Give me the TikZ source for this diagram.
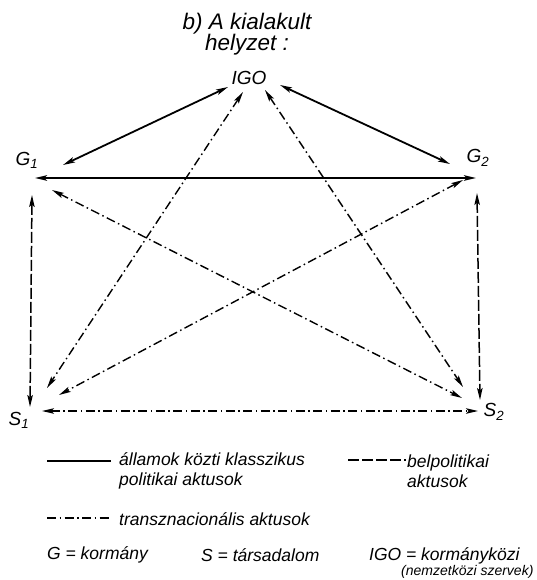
\documentclass[tikz,border=0pt]{standalone}
\usepackage{fontspec}
\setmainfont{Liberation Sans}
\usepackage{tikz}
\usetikzlibrary{arrows.meta, positioning}

\begin{document}
\begin{tikzpicture}[
        x=1pt, y=-1pt,
        >={Stealth[length=12pt,width=5.5pt,inset=2.5pt]},
        lbl/.style={font=\fontsize{19}{20}\selectfont\itshape, inner sep=0pt},
        leg/.style={font=\fontsize{17.5}{20}\selectfont\itshape, inner sep=0pt, align=left, anchor=west},
        klassline/.style={line width=1.8pt},
        belline/.style={line width=1.5pt, dash pattern=on 11pt off 3pt},
        transline/.style={line width=1.4pt, dash pattern=on 9pt off 3.5pt on 1.5pt off 3.5pt},
        klass/.style={klassline, <->},
        bel/.style={belline, <->},
        trans/.style={transline, <->}
    ]
    \useasboundingbox (0,0) rectangle (536,580);

    \node[font=\fontsize{22.5}{21}\selectfont\itshape, align=center] (title) at (247,34) {b) A kialakult\\helyzet :};

    \node[lbl] (igo) at (249,78) {IGO};
    \node[lbl] (g1) at (27,160) {G\textsubscript{1}};
    \node[lbl] (g2) at (478,158) {G\textsubscript{2}};
    \node[lbl] (s1) at (19,420) {S\textsubscript{1}};
    \node[lbl] (s2) at (494,412) {S\textsubscript{2}};

    % classical inter-state acts
    \draw[klass] ([shift={(-21,9)}]igo.center) -- ([shift={(36,5)}]g1.center);
    \draw[klass] ([shift={(31,7)}]igo.center) -- ([shift={(-28,6)}]g2.center);
    \draw[klass] ([shift={(8,18)}]g1.center) -- ([shift={(-2,20)}]g2.center);

    % domestic acts
    \draw[bel] ([shift={(5,35)}]g1.center) -- ([shift={(11,-13)}]s1.center);
    \draw[bel] ([shift={(-1,35)}]g2.center) -- ([shift={(-14,-12)}]s2.center);

    % transnational acts
    \draw[trans] ([shift={(23,-9)}]s1.center) -- ([shift={(-16,-1)}]s2.center);
    \draw[trans] ([shift={(-6,14)}]igo.center) -- ([shift={(28,-32)}]s1.center);
    \draw[trans] ([shift={(16,12)}]igo.center) -- ([shift={(-31,-25)}]s2.center);
    \draw[trans] ([shift={(25,30)}]g1.center) -- ([shift={(-32,-14)}]s2.center);
    \draw[trans] ([shift={(-15,22)}]g2.center) -- ([shift={(40,-25)}]s1.center);

    % legend
    \node[leg] (lkl) at (119,471) {államok közti klasszikus\\politikai aktusok};
    \node[leg] (lbel) at (407,471) {belpolitikai\\aktusok};
    \node[leg] (ltrans) at (119,519) {transznacionális aktusok};
    \node[leg] (lg) at (47,555) {G = kormány};
    \node[leg] (ls) at (201,555) {S = társadalom};
    \node[leg] (ligo) at (369,556) {IGO = kormányközi};
    \node[leg, font=\fontsize{14}{16}\selectfont\itshape] (lnem) at (401,572) {(nemzetközi szervek)};

    \coordinate (lkla) at (47,461);
    \coordinate (lbela) at (348,460);
    \coordinate (ltransa) at (47,518);
    \draw[klassline] (lkla) -- ([xshift=-8pt]lkla -| lkl.west);
    \draw[belline] (lbela) -- ([xshift=-1pt]lbela -| lbel.west);
    \draw[transline] (ltransa) -- ([xshift=-7pt]ltransa -| ltrans.west);

\end{tikzpicture}
\end{document}
